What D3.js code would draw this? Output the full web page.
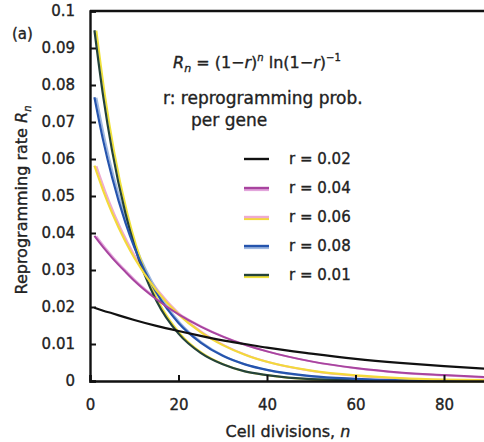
<!DOCTYPE html>
<html>
<head>
<meta charset="utf-8">
<script src="https://cdn.jsdelivr.net/npm/d3@7"></script>
<style>
  body { margin: 0; background: #fff; }
  text { font-family: "DejaVu Sans", Verdana, sans-serif; fill: #222; stroke: #222; stroke-width: 0.35px; }
</style>
</head>
<body>
<script>
// cell divisions n where the curves were read
const cellDivisions = [1, 3, 5, 8, 10, 15, 20, 25, 30, 35, 40, 50, 60, 70, 80, 90];

// reprogramming rate R_n for each r
const rate002 = [0.0198, 0.0190, 0.0183, 0.0172, 0.0165, 0.0149, 0.0135, 0.0122, 0.0110, 0.0100, 0.0090, 0.0074, 0.0060, 0.0049, 0.0040, 0.0033];
const rate004 = [0.0392, 0.0361, 0.0333, 0.0295, 0.0271, 0.0221, 0.0180, 0.0147, 0.0120, 0.0098, 0.0080, 0.0053, 0.0035, 0.0023, 0.0016, 0.0010];
const rate006 = [0.0582, 0.0514, 0.0454, 0.0377, 0.0333, 0.0245, 0.0180, 0.0132, 0.0097, 0.0071, 0.0052, 0.0028, 0.0015, 0.0008, 0.0004, 0.0002];
const rate008 = [0.0767, 0.0649, 0.0550, 0.0428, 0.0362, 0.0239, 0.0157, 0.0104, 0.0068, 0.0045, 0.0030, 0.0013, 0.0006, 0.0002, 0.0001, 0.0000];
const rate010 = [0.0948, 0.0768, 0.0622, 0.0454, 0.0367, 0.0217, 0.0128, 0.0076, 0.0045, 0.0026, 0.0016, 0.0005, 0.0002, 0.0001, 0.0000, 0.0000];

const seriesLabels = ['r = 0.02', 'r = 0.04', 'r = 0.06', 'r = 0.08', 'r = 0.01'];
const yTickValues = [0, 0.01, 0.02, 0.03, 0.04, 0.05, 0.06, 0.07, 0.08, 0.09, 0.1];
const xTickValues = [0, 20, 40, 60, 80];

const width = 484;
const height = 442;
const margin = { top: 11, left: 90, bottom: 61 };

// each curve is printed as a main stroke plus a slightly offset companion stroke
const styles = [
  { main: '#111', under: null, w: 2.2 },
  { main: '#a8449f', under: '#e3a6dc', w: 2 },
  { main: '#f3d93a', under: '#eeaad0', w: 2.2, legendSwap: true },
  { main: '#2554ad', under: '#9fb8e0', w: 2.2 },
  { main: '#24433a', under: '#f0e23c', w: 2.2 }
];

const series = [rate002, rate004, rate006, rate008, rate010].map((vals, i) => ({
  label: seriesLabels[i],
  style: styles[i],
  points: cellDivisions.map((n, j) => ({ n: n, v: vals[j] }))
}));

const x = d3.scaleLinear().domain([0, 90]).range([margin.left, margin.left + 4.425 * 90]);
const y = d3.scaleLinear().domain([0, 0.1]).range([height - margin.bottom, margin.top]);

const svg = d3.select('body').append('svg')
  .attr('width', width)
  .attr('height', height);

const line = d3.line()
  .x(d => x(d.n))
  .y(d => y(d.v))
  .curve(d3.curveMonotoneX);

const curves = svg.append('g');

// companion strokes first, then the main ones
series.filter(s => s.style.under).forEach(s => {
  curves.append('path')
    .datum(s.points)
    .attr('d', line)
    .attr('fill', 'none')
    .attr('stroke', s.style.under)
    .attr('stroke-width', 2)
    .attr('transform', 'translate(2,0.5)');
});

series.slice().reverse().forEach(s => {
  curves.append('path')
    .datum(s.points)
    .attr('d', line)
    .attr('fill', 'none')
    .attr('stroke', s.style.main)
    .attr('stroke-width', s.style.w);
});

// axes with inside ticks
const yAxis = d3.axisLeft(y)
  .tickValues(yTickValues)
  .tickSize(-6)
  .tickPadding(15)
  .tickFormat(d => d === 0 ? '0' : d3.format('.2~f')(d));

const xAxis = d3.axisBottom(x)
  .tickValues(xTickValues)
  .tickSize(-6)
  .tickPadding(14);

const gy = svg.append('g')
  .attr('transform', `translate(${margin.left},0)`)
  .call(yAxis);

const gx = svg.append('g')
  .attr('transform', `translate(0,${height - margin.bottom})`)
  .call(xAxis);

[gy, gx].forEach(g => {
  g.select('.domain').attr('stroke', '#111').attr('stroke-width', 2.4);
  g.selectAll('.tick line').attr('stroke', '#111').attr('stroke-width', 2);
  g.selectAll('.tick text')
    .style('font-family', '"DejaVu Sans", Verdana, sans-serif')
    .style('font-size', '15px')
    .attr('fill', '#222');
});
gx.selectAll('.tick text').attr('dy', '1em');

// top frame line
svg.append('line')
  .attr('x1', margin.left).attr('x2', width)
  .attr('y1', y(0.1)).attr('y2', y(0.1))
  .attr('stroke', '#111').attr('stroke-width', 2.4);

// axis titles
const xTitle = svg.append('text')
  .attr('x', 288).attr('y', 437)
  .attr('text-anchor', 'middle')
  .style('font-size', '16px');
xTitle.append('tspan').text('Cell divisions, ');
xTitle.append('tspan').style('font-style', 'italic').text('n');

const yTitle = svg.append('text')
  .attr('transform', 'translate(27,200) rotate(-90)')
  .attr('text-anchor', 'middle')
  .style('font-size', '16px');
yTitle.append('tspan').text('Reprogramming rate ');
yTitle.append('tspan').style('font-style', 'italic').text('R');
yTitle.append('tspan').attr('dy', 4).style('font-size', '10px').style('font-style', 'italic').text('n');

svg.append('text')
  .attr('x', 12).attr('y', 39)
  .style('font-size', '15px')
  .text('(a)');

// formula
const formula = svg.append('text')
  .attr('x', 173).attr('y', 68)
  .style('font-size', '16px');
formula.append('tspan').style('font-style', 'italic').text('R');
formula.append('tspan').attr('dy', 4).style('font-size', '11px').style('font-style', 'italic').text('n');
formula.append('tspan').attr('dy', -4).text(' = (1\u2212');
formula.append('tspan').style('font-style', 'italic').text('r');
formula.append('tspan').text(')');
formula.append('tspan').attr('dy', -7).style('font-size', '10px').style('font-style', 'italic').text('n');
formula.append('tspan').attr('dy', 7).text(' ln(1\u2212');
formula.append('tspan').style('font-style', 'italic').text('r');
formula.append('tspan').text(')');
formula.append('tspan').attr('dy', -7).style('font-size', '10px').text('\u22121');

svg.append('text')
  .attr('x', 163).attr('y', 104)
  .style('font-size', '17px')
  .text('r: reprogramming prob.');
svg.append('text')
  .attr('x', 191).attr('y', 126)
  .style('font-size', '17px')
  .text('per gene');

// legend
const legend = svg.append('g');
series.forEach((s, i) => {
  const ly = 159 + i * 29;
  const topColor = s.style.legendSwap ? s.style.under : s.style.main;
  const bottomColor = s.style.legendSwap ? s.style.main : s.style.under;
  if (bottomColor) {
    legend.append('line')
      .attr('x1', 244).attr('x2', 269)
      .attr('y1', ly + 2).attr('y2', ly + 2)
      .attr('stroke', bottomColor).attr('stroke-width', 2.2);
  }
  legend.append('line')
    .attr('x1', 244).attr('x2', 269)
    .attr('y1', ly).attr('y2', ly)
    .attr('stroke', topColor).attr('stroke-width', 2.4);
  legend.append('text')
    .attr('x', 289).attr('y', ly + 5)
    .style('font-size', '15px')
    .text(s.label);
});
</script>
</body>
</html>
